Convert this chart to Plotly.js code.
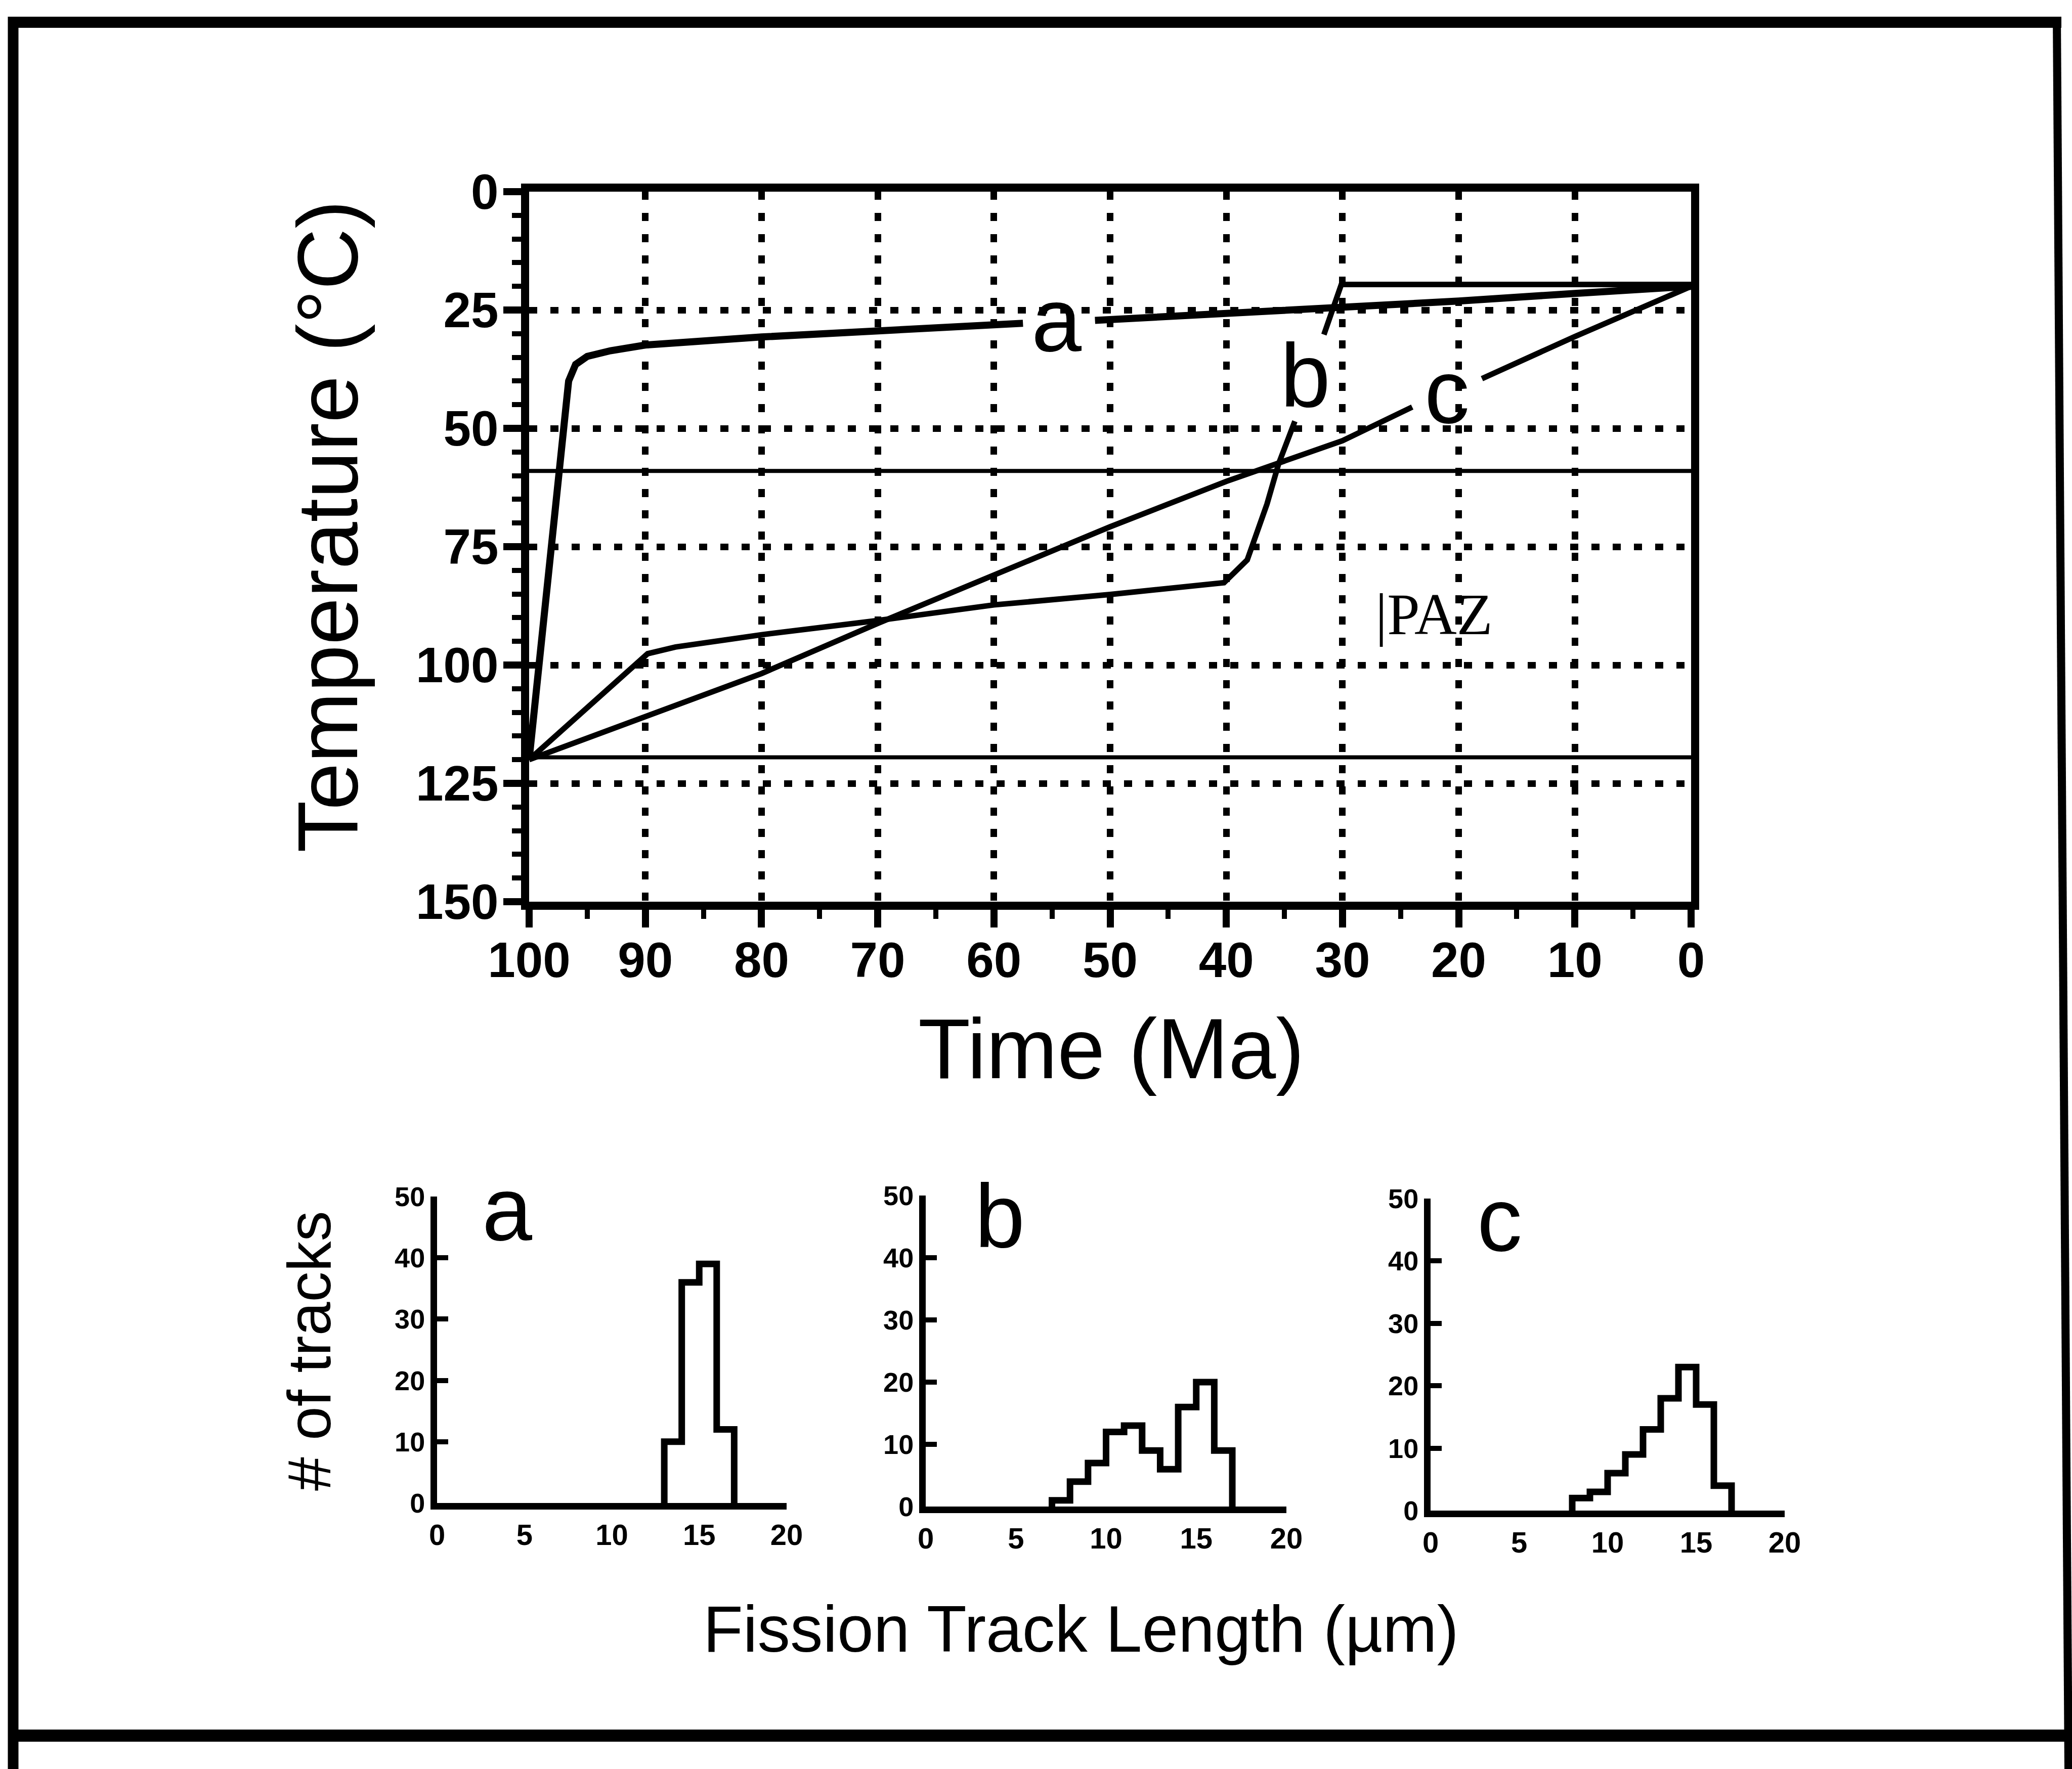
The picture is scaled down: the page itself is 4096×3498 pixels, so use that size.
<!DOCTYPE html>
<html>
<head>
<meta charset="utf-8">
<script src="https://cdn.plot.ly/plotly-3.0.1.min.js"></script>
<style>html,body{margin:0;padding:0;background:#fff;}#chart{width:4096px;height:3498px;}</style>
</head>
<body>
<div id="chart"></div>
<script>
// ---------------- data ----------------
const timeTicks = [100, 90, 80, 70, 60, 50, 40, 30, 20, 10, 0];
const tempTicks = [0, 25, 50, 75, 100, 125, 150];

// cooling paths (time in Ma, temperature in °C); null = gap for the curve label
const aTime = [100, 96.6, 96.0, 95.0, 93.0, 90, 80, 70, 57.5, null, 51.3, 40, 30, 20, 10, 0];
const aTemp = [120, 40, 36.5, 34.8, 33.6, 32.4, 30.7, 29.3, 27.8, null, 27.2, 25.8, 24.6, 23.1, 21.5, 20];

const bTime = [100, 89.8, 87.4, 80, 70, 60, 50, 40.2, 38.2, 36.5, 35.5, 34.1, null, 31.6, 30.1, 0];
const bTemp = [120, 97.6, 96.2, 93.6, 90.6, 87.3, 85.1, 82.6, 77.8, 66, 57.5, 48.5, null, 30.2, 19.6, 19.6];

const cTime = [100, 90, 80, 70, 60, 50, 40, 35, 30, 24, null, 18, 10, 0];
const cTemp = [120, 111, 101.8, 91.2, 80.9, 70.8, 61.2, 57, 52.6, 45.5, null, 39.5, 30.6, 20];

// partial annealing zone bounds (°C)
const pazTemps = [59, 119.5];
const pazLabel = '|PAZ';

// curve labels
const pathNames = ['a', 'b', 'c'];
const labelTime = [54.6, 33.2, 21.0];
const labelTemp = [27.1, 38.8, 42.3];

// fission track length histograms (1 µm bins: first bin start, counts)
const lengthTicks = [0, 5, 10, 15, 20];
const countTicks = [0, 10, 20, 30, 40, 50];
const histAStart = 13, histACounts = [10, 36, 39, 12];
const histBStart = 7,  histBCounts = [1, 4, 7, 12, 13, 9, 6, 16, 20, 9];
const histCStart = 8,  histCCounts = [2, 3, 6, 9, 13, 18, 23, 17, 4];
const histLabelX = [4.0, 4.1, 3.9];
const histLabelY = [48.0, 46.7, 46.6];

// ---------------- drawing ----------------
const W = 4096, H = 3498;
const px = v => v / W;
const py = v => 1 - v / H;
const SANS = 'Liberation Sans, Arial, Helvetica, sans-serif';
const SERIF = 'Liberation Serif, Times New Roman, serif';
const K = '#000';

function steps(start, counts) {
  const xs = [start], ys = [0];
  counts.forEach((c, i) => { xs.push(start + i); ys.push(c); });
  xs.push(start + counts.length); ys.push(0);
  return {xs, ys};
}

const traces = [];
pazTemps.forEach(t => traces.push({
  x: [timeTicks[0], timeTicks[timeTicks.length - 1]], y: [t, t],
  mode: 'lines', line: {color: K, width: 8}, xaxis: 'x', yaxis: 'y', hoverinfo: 'skip'
}));
[[aTime, aTemp, 14], [bTime, bTemp, 11], [cTime, cTemp, 11]].forEach(([x, y, w]) => traces.push({
  x: x, y: y, mode: 'lines', connectgaps: false,
  line: {color: K, width: w, shape: 'linear'}, xaxis: 'x', yaxis: 'y', hoverinfo: 'skip'
}));
[[histAStart, histACounts, 'x2', 'y2'], [histBStart, histBCounts, 'x3', 'y3'], [histCStart, histCCounts, 'x4', 'y4']]
  .forEach(([s, c, xa, ya]) => {
    const st = steps(s, c);
    traces.push({x: st.xs, y: st.ys, mode: 'lines', line: {color: K, width: 13, shape: 'hv'},
      xaxis: xa, yaxis: ya, hoverinfo: 'skip'});
  });

const mainX = {
  domain: [px(1046), px(3343)], range: [100, 0], anchor: 'y',
  showline: true, linewidth: 16, linecolor: K, mirror: true,
  ticks: 'outside', ticklen: 35, tickwidth: 14, tickcolor: K,
  tickmode: 'array', tickvals: timeTicks, ticktext: timeTicks.map(String),
  tickfont: {family: SANS, size: 98, color: K, weight: 'bold'}, ticklabelstandoff: -20,
  minor: {dtick: 5, tick0: 0, ticks: 'outside', ticklen: 18, tickwidth: 10, tickcolor: K, showgrid: false},
  showgrid: true, gridcolor: K, gridwidth: 13, griddash: '16px,26px',
  zeroline: false, fixedrange: true
};
const mainY = {
  domain: [py(1783), py(379)], range: [150, 0], anchor: 'x',
  showline: true, linewidth: 16, linecolor: K, mirror: true,
  ticks: 'outside', ticklen: 35, tickwidth: 14, tickcolor: K,
  tickmode: 'array', tickvals: tempTicks, ticktext: tempTicks.map(String),
  tickfont: {family: SANS, size: 98, color: K, weight: 'bold'}, ticklabelstandoff: -10,
  minor: {dtick: 5, tick0: 0, ticks: 'outside', ticklen: 18, tickwidth: 10, tickcolor: K, showgrid: false},
  showgrid: true, gridcolor: K, gridwidth: 13, griddash: '16px,26px',
  zeroline: false, fixedrange: true
};

function histX(d0, d1, anchor) {
  return {domain: [px(d0), px(d1)], range: [0, 20], anchor: anchor,
    showline: true, linewidth: 13, linecolor: K, ticks: '',
    tickmode: 'array', tickvals: lengthTicks, ticktext: lengthTicks.map(String),
    tickfont: {family: SANS, size: 58, color: K, weight: 'bold'},
    showgrid: false, zeroline: false, fixedrange: true};
}
function histY(b, t, anchor) {
  return {domain: [py(b), py(t)], range: [0, 50], anchor: anchor,
    showline: true, linewidth: 13, linecolor: K,
    ticks: 'inside', ticklen: 22, tickwidth: 10, tickcolor: K,
    tickmode: 'array', tickvals: countTicks, ticktext: countTicks.map(String),
    tickfont: {family: SANS, size: 54, color: K, weight: 'bold'},
    showgrid: false, zeroline: false, fixedrange: true};
}

const annotations = [];
pathNames.forEach((n, i) => annotations.push({
  text: n, x: labelTime[i], y: labelTemp[i], xref: 'x', yref: 'y',
  showarrow: false, xanchor: 'center', yanchor: 'middle',
  font: {family: SANS, size: 178, color: K}
}));
annotations.push({text: pazLabel, x: 22.1, y: 89.3, xref: 'x', yref: 'y', showarrow: false,
  xanchor: 'center', yanchor: 'middle', font: {family: SERIF, size: 116, color: K}});
[['x2', 'y2'], ['x3', 'y3'], ['x4', 'y4']].forEach(([xa, ya], i) => annotations.push({
  text: pathNames[i], x: histLabelX[i], y: histLabelY[i], xref: xa, yref: ya,
  showarrow: false, xanchor: 'center', yanchor: 'middle',
  font: {family: SANS, size: 178, color: K}
}));
// axis titles
annotations.push({text: 'Temperature (°C)', x: px(648), y: py(1041), xref: 'paper', yref: 'paper',
  textangle: -90, showarrow: false, xanchor: 'center', yanchor: 'middle',
  font: {family: SANS, size: 168, color: K}});
annotations.push({text: 'Time (Ma)', x: px(2197), y: py(2073), xref: 'paper', yref: 'paper',
  showarrow: false, xanchor: 'center', yanchor: 'middle',
  font: {family: SANS, size: 169, color: K}});
annotations.push({text: '# of tracks', x: px(611), y: py(2671), xref: 'paper', yref: 'paper',
  textangle: -90, showarrow: false, xanchor: 'center', yanchor: 'middle',
  font: {family: SANS, size: 120, color: K}});
annotations.push({text: 'Fission Track Length (µm)', x: px(2137), y: py(3221), xref: 'paper', yref: 'paper',
  showarrow: false, xanchor: 'center', yanchor: 'middle',
  font: {family: SANS, size: 129, color: K}});

const shapes = [
  {type: 'line', xref: 'paper', yref: 'paper', x0: px(26), x1: px(26), y0: py(33), y1: 0, line: {color: K, width: 21}},
  {type: 'line', xref: 'paper', yref: 'paper', x0: px(16), x1: px(4075), y0: py(44), y1: py(44), line: {color: K, width: 22}},
  {type: 'line', xref: 'paper', yref: 'paper', x0: px(4066), x1: px(4089), y0: py(33), y1: 0, line: {color: K, width: 16}},
  {type: 'line', xref: 'paper', yref: 'paper', x0: px(16), x1: 1, y0: py(3432), y1: py(3432), line: {color: K, width: 24}}
];

const layout = {
  width: W, height: H, margin: {l: 0, r: 0, t: 0, b: 0, pad: 0},
  paper_bgcolor: '#fff', plot_bgcolor: 'rgba(0,0,0,0)', showlegend: false,
  font: {family: SANS, color: K},
  xaxis: mainX, yaxis: mainY,
  xaxis2: histX(864, 1555, 'y2'), yaxis2: histY(2972, 2366, 'x2'),
  xaxis3: histX(1830, 2543, 'y3'), yaxis3: histY(2979, 2364, 'x3'),
  xaxis4: histX(2828, 3528, 'y4'), yaxis4: histY(2987, 2370, 'x4'),
  annotations: annotations, shapes: shapes
};

Plotly.newPlot('chart', traces, layout, {staticPlot: true, displayModeBar: false});
</script>
</body>
</html>
